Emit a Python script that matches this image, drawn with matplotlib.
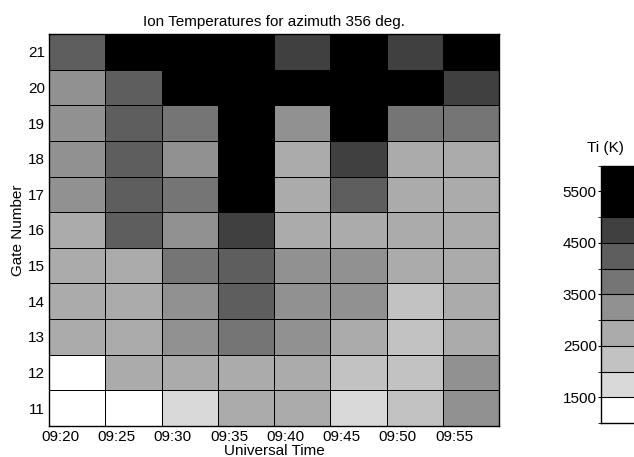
import numpy as np
import matplotlib
matplotlib.use("Agg")
import matplotlib.pyplot as plt
from matplotlib.colors import ListedColormap, BoundaryNorm

plt.rcParams['font.family'] = ['Liberation Sans', 'DejaVu Sans']

times = ["09:20", "09:25", "09:30", "09:35", "09:40", "09:45", "09:50", "09:55"]
gates = [11, 12, 13, 14, 15, 16, 17, 18, 19, 20, 21]

# Ion temperature (K), rows = gates 11..21, columns = times
ti = np.array([
    [1200, 1200, 1900, 2800, 2700, 1900, 2100, 3000],  # 11
    [1200, 2700, 2800, 2900, 2900, 2000, 2200, 3000],  # 12
    [2900, 2900, 3100, 3600, 3000, 2800, 2100, 2800],  # 13
    [2700, 2700, 3000, 4200, 3000, 3100, 2100, 2800],  # 14
    [2700, 2700, 3600, 4200, 3000, 3200, 2800, 2800],  # 15
    [2800, 4300, 3200, 4900, 2900, 2900, 2800, 2800],  # 16
    [3100, 4000, 3800, 5500, 2600, 4300, 2600, 2800],  # 17
    [3200, 4000, 3100, 5500, 2600, 4900, 2600, 2800],  # 18
    [3200, 4000, 3900, 5500, 3000, 5500, 3600, 3500],  # 19
    [3000, 4000, 5500, 5500, 5500, 5500, 5500, 4800],  # 20
    [4200, 5500, 5500, 5500, 4800, 5500, 4700, 5500],  # 21
])

levels = [1000, 1500, 2000, 2500, 3000, 3500, 4000, 4500, 5000, 6000]
grays = [1.0, 0.85, 0.76, 0.67, 0.57, 0.46, 0.37, 0.25, 0.0]
cbar_ticks = [1500, 2500, 3500, 4500, 5500]

cmap = ListedColormap([(g, g, g) for g in grays])
norm = BoundaryNorm(levels, cmap.N)

fs = 11
fig = plt.figure(figsize=(6.34, 4.57), dpi=100)
ax = fig.add_axes([49/634, 1-426/457, 450/634, 392/457])

ax.pcolormesh(np.arange(len(times)+1), np.arange(len(gates)+1), ti,
              cmap=cmap, norm=norm, edgecolors='black', linewidth=0.7)
ax.set_xlim(0, len(times))
ax.set_ylim(0, len(gates))
ax.set_xticks(np.arange(len(times)) + 0.2)
ax.set_xticklabels(times, fontsize=fs)
ax.set_yticks(np.arange(len(gates)) + 0.5)
ax.set_yticklabels([str(g) for g in gates], fontsize=fs)
ax.tick_params(axis='x', length=0, pad=3)
ax.tick_params(axis='y', length=0, pad=3)
ax.set_xlabel("Universal Time", fontsize=fs, labelpad=0)
ax.set_ylabel("Gate Number", fontsize=fs, labelpad=2)
ax.set_title("Ion Temperatures for azimuth 356 deg.", fontsize=fs, pad=6)
for s in ax.spines.values():
    s.set_linewidth(1.0)

cax = fig.add_axes([601/634, 1-423/457, 60/634, 257.5/457])
cb = fig.colorbar(plt.cm.ScalarMappable(norm=norm, cmap=cmap), cax=cax,
                  spacing='proportional', ticks=cbar_ticks, drawedges=True)
cb.dividers.set_linewidth(0.8)
cax.yaxis.set_ticks_position('left')
cax.yaxis.set_label_position('left')
cax.tick_params(labelsize=fs, length=2, pad=1)
cb.outline.set_linewidth(1.0)
fig.text(605/634, 1-148/457, "Ti (K)", ha='center', va='center', fontsize=fs)

fig.savefig("out.png", dpi=100)
